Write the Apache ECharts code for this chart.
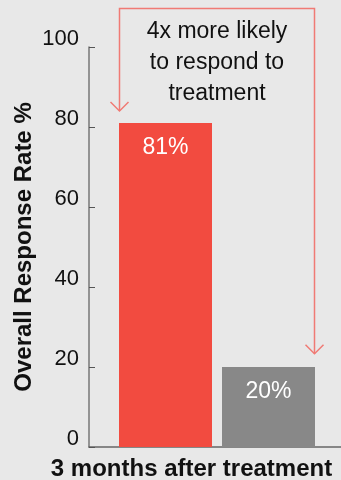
<!DOCTYPE html>
<html>
<head>
<meta charset="utf-8">
<script src="https://cdn.jsdelivr.net/npm/echarts@6/dist/echarts.min.js"></script>
<style>
html,body{margin:0;padding:0;background:#e8e8e8;}
#c{width:341px;height:480px;}
</style>
</head>
<body>
<div id="c"></div>
<script>
const categories = ['3 months after treatment'];
const seriesNames = ['Treatment', 'Control'];
const treatmentValues = [81];
const controlValues = [20];
const yTicks = [0, 20, 40, 60, 80, 100];
const annotationLines = ['4x more likely', 'to respond to', 'treatment'];

const FONT = '"Liberation Sans", Arial, Helvetica, sans-serif';
const RED = '#f24b40';
const GRAY = '#888888';
const LINE = '#f07a74';
const BAR_W = 93, GAP = 10;

const chart = echarts.init(document.getElementById('c'), null, {renderer: 'canvas'});

const option = {
  backgroundColor: '#e8e8e8',
  animation: false,
  grid: {left: 89, right: -4, top: 47, bottom: 33, containLabel: false, outerBoundsMode: 'none'},
  xAxis: {
    type: 'category',
    data: categories,
    axisLine: {show: true, lineStyle: {color: '#666', width: 1.5}},
    axisTick: {show: false},
    axisLabel: {
      color: '#111', fontFamily: FONT, fontWeight: 'bold', fontSize: 24,
      margin: 10, padding: [0, 51, 0, 0]
    }
  },
  yAxis: {
    type: 'value',
    min: yTicks[0], max: yTicks[yTicks.length - 1], interval: 20,
    name: 'Overall Response Rate %',
    nameLocation: 'middle',
    nameRotate: 90,
    nameGap: 53,
    nameMoveOverlap: false,
    nameTextStyle: {color: '#111', fontFamily: FONT, fontWeight: 'bold', fontSize: 24},
    axisLine: {show: true, lineStyle: {color: '#777', width: 1.5}},
    axisTick: {show: true, inside: true, length: 6, lineStyle: {color: '#555', width: 1}},
    splitLine: {show: false},
    axisLabel: {
      color: '#111', fontFamily: FONT, fontSize: 22, margin: 10,
      verticalAlign: 'bottom', lineHeight: 16
    }
  },
  series: [
    {
      name: seriesNames[0], type: 'bar', data: treatmentValues,
      barWidth: BAR_W, barGap: (GAP / BAR_W * 100).toFixed(2) + '%',
      itemStyle: {color: RED},
      label: {show: true, position: 'insideTop', distance: 13, color: '#fff',
        fontFamily: FONT, fontSize: 23, formatter: '{c}%'}
    },
    {
      name: seriesNames[1], type: 'bar', data: controlValues,
      barWidth: BAR_W,
      itemStyle: {color: GRAY},
      label: {show: true, position: 'insideTop', distance: 13, color: '#fff',
        fontFamily: FONT, fontSize: 23, formatter: '{c}%'}
    }
  ]
};
chart.setOption(option);

// Annotation: bracket with arrows, positioned from the axes
const cx = chart.convertToPixel({xAxisIndex: 0}, categories[0]);
const leftX = Math.round(cx - GAP / 2 - BAR_W) + 0.5;
const rightX = Math.round(cx + GAP / 2 + BAR_W) - 0.5;
const topY = 8.5;
const leftTip = chart.convertToPixel({yAxisIndex: 0}, treatmentValues[0] + 3);
const rightTip = chart.convertToPixel({yAxisIndex: 0}, controlValues[0] + 3.3);
const ah = 9;
chart.setOption({
  graphic: [
    {type: 'polyline', shape: {points: [[leftX, leftTip], [leftX, topY], [rightX, topY], [rightX, rightTip]]},
      style: {stroke: LINE, lineWidth: 1.5, fill: null}},
    {type: 'polyline', shape: {points: [[leftX - ah, leftTip - ah], [leftX, leftTip], [leftX + ah, leftTip - ah]]},
      style: {stroke: LINE, lineWidth: 1.5, fill: null}},
    {type: 'polyline', shape: {points: [[rightX - ah, rightTip - ah], [rightX, rightTip], [rightX + ah, rightTip - ah]]},
      style: {stroke: LINE, lineWidth: 1.5, fill: null}},
    {type: 'text', x: (leftX + rightX) / 2, y: 16,
      style: {text: annotationLines.join('\n'), fill: '#111', font: '23px ' + FONT,
        align: 'center', verticalAlign: 'top', lineHeight: 31}}
  ]
});
</script>
</body>
</html>
